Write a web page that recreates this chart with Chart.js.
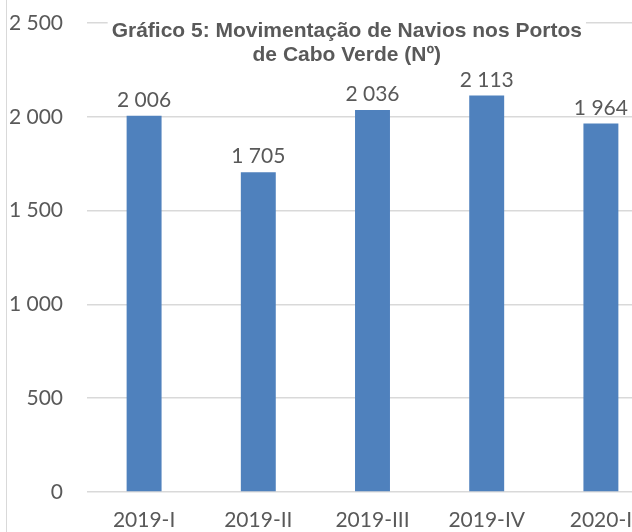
<!DOCTYPE html>
<html>
<head>
<meta charset="utf-8">
<script src="https://cdn.jsdelivr.net/npm/chart.js@4/dist/chart.umd.min.js"></script>
<style>
  html, body { margin: 0; padding: 0; width: 632px; height: 532px; overflow: hidden; background: #fff; }
  .wrap { position: absolute; left: 6px; top: 0; height: 532px; width: 656px; border-left: 1px solid #d9d9d9; }
</style>
</head>
<body>
<div class="wrap"><canvas id="grafico" width="656" height="532"></canvas></div>
<script>
// dados do grafico
var trimestres = ['2019-I', '2019-II', '2019-III', '2019-IV', '2020-I'];
var navios = [2006, 1705, 2036, 2113, 1964];
var yTicks = [0, 500, 1000, 1500, 2000, 2500];
var titulo = ['Gráfico 5: Movimentação de Navios nos Portos', 'de Cabo Verde (Nº)'];

var cinza = '#595959';
var fonte = 'Lato, "Open Sans", sans-serif';

function espaco(n) {
  return String(n).replace(/\B(?=(\d{3})+(?!\d))/g, ' ');
}

// rotulos em cima das barras
var rotulos = {
  id: 'rotulos',
  afterDatasetsDraw: function(chart) {
    var ctx = chart.ctx;
    var meta = chart.getDatasetMeta(0);
    ctx.save();
    ctx.font = '21px ' + fonte;
    ctx.fillStyle = cinza;
    ctx.textAlign = 'center';
    ctx.textBaseline = 'alphabetic';
    meta.data.forEach(function(bar, i) {
      ctx.fillText(espaco(navios[i]), bar.x, bar.y - 9);
    });
    ctx.restore();
  }
};

// titulo sobreposto na area do grafico
var tituloPlugin = {
  id: 'tituloPlugin',
  afterDraw: function(chart) {
    var ctx = chart.ctx;
    var area = chart.chartArea;
    var cx = area.left + 0.455 * (area.right - area.left);
    ctx.save();
    ctx.font = 'bold 21px "Liberation Sans", Arial, sans-serif';
    var w = ctx.measureText(titulo[0]).width;
    ctx.fillStyle = '#ffffff';
    ctx.fillRect(cx - w / 2 - 4, 14, w + 8, 52);
    ctx.fillStyle = cinza;
    ctx.textAlign = 'center';
    ctx.textBaseline = 'alphabetic';
    ctx.fillText(titulo[0], cx, 37);
    ctx.fillText(titulo[1], cx, 61);
    ctx.restore();
  }
};

var config1 = {
  type: 'bar',
  data: {
    labels: trimestres,
    datasets: [{
      data: navios,
      backgroundColor: '#4f81bd',
      borderWidth: 0,
      categoryPercentage: 1,
      barPercentage: 0.306
    }]
  },
  options: {
    responsive: false,
    animation: false,
    layout: { padding: { top: 23, right: 5, left: 0, bottom: 0 } },
    plugins: {
      legend: { display: false },
      title: { display: false },
      tooltip: { enabled: false }
    },
    scales: {
      x: {
        grid: { display: false, drawTicks: false },
        border: { display: false },
        ticks: { color: cinza, font: { family: fonte, size: 21 }, padding: 16, maxRotation: 0 },
        afterFit: function(s) { s.height = 40; s.paddingLeft = 0; s.paddingRight = 0; }
      },
      y: {
        min: 0,
        max: 2500,
        afterBuildTicks: function(s) { s.ticks = yTicks.map(function(v) { return { value: v }; }); },
        grid: { color: '#d9d9d9', lineWidth: 1.5, drawTicks: false },
        border: { display: false },
        ticks: {
          color: cinza,
          font: { family: fonte, size: 21 },
          padding: 24,
          callback: function(v) { return espaco(v); }
        },
        afterFit: function(s) { s.width = 80; s.paddingTop = 0; s.paddingBottom = 0; }
      }
    }
  },
  plugins: [rotulos, tituloPlugin]
};

window.onload = function() {
  var ctx1 = document.getElementById('grafico').getContext('2d');
  window.myBar = new Chart(ctx1, config1);
};
</script>
</body>
</html>
